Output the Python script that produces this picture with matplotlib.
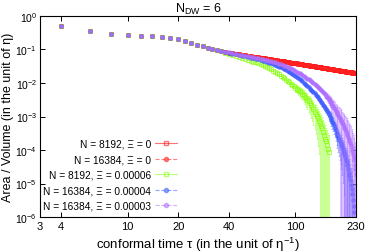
import numpy as np
import matplotlib
matplotlib.use("Agg")
import matplotlib.pyplot as plt
from matplotlib.lines import Line2D
from matplotlib.ticker import FixedLocator, FixedFormatter, NullLocator

plt.rcParams['font.family'] = ['Liberation Sans', 'DejaVu Sans']
plt.rcParams['mathtext.fontset'] = 'custom'
plt.rcParams['mathtext.rm'] = 'Liberation Sans'
plt.rcParams['mathtext.it'] = 'Liberation Sans'

# conformal time grid (step 2)
tau = list(range(4, 231, 2))

# tau = 4 ... 24, all runs coincide
area_early = [0.51, 0.36, 0.29, 0.265, 0.25, 0.245, 0.24, 0.225, 0.205, 0.18, 0.158]

# N = 8192, Xi = 0   (tau = 26 ... 230)
area_xi0_8192 = area_early + [
    0.14, 0.126, 0.114, 0.105, 0.097, 0.090, 0.085, 0.080,
    0.0770, 0.0743, 0.0718, 0.0695, 0.0673, 0.0653, 0.0634, 0.0616, 0.0599, 0.0584,
    0.0569, 0.0555, 0.0541, 0.0529, 0.0517, 0.0505, 0.0494, 0.0484, 0.0474, 0.0464,
    0.0455, 0.0447, 0.0438, 0.0430, 0.0422, 0.0415, 0.0408, 0.0401, 0.0394, 0.0388,
    0.0382, 0.0376, 0.0370, 0.0365, 0.0359, 0.0354, 0.0349, 0.0344, 0.0339, 0.0335,
    0.0330, 0.0326, 0.0322, 0.0317, 0.0313, 0.0310, 0.0306, 0.0302, 0.0299, 0.0295,
    0.0292, 0.0288, 0.0285, 0.0282, 0.0279, 0.0276, 0.0273, 0.0270, 0.0267, 0.0264,
    0.0262, 0.0259, 0.0256, 0.0254, 0.0251, 0.0249, 0.0247, 0.0244, 0.0242, 0.0240,
    0.0238, 0.0235, 0.0233, 0.0231, 0.0229, 0.0227, 0.0225, 0.0223, 0.0222, 0.0220,
    0.0218, 0.0216, 0.0214, 0.0213, 0.0211, 0.0209, 0.0208, 0.0206, 0.0205, 0.0203,
    0.0201, 0.0200, 0.0198, 0.0197, 0.0196]

# N = 16384, Xi = 0 lies on top of the N = 8192 run
area_xi0_16384 = area_xi0_8192

# N = 8192, Xi = 0.00006   (tau = 26 ... 158)
area_xi6_8192 = area_early + [
    0.138, 0.124, 0.112, 0.1035, 0.0955, 0.0871, 0.0804, 0.0741,
    0.0692, 0.0646, 0.0603, 0.0562, 0.0525, 0.0490, 0.0462, 0.0437, 0.0417, 0.0398,
    0.0380, 0.0351, 0.0324, 0.0302, 0.0282, 0.0257, 0.0234, 0.0216, 0.0200, 0.0182,
    0.0166, 0.0151, 0.0138, 0.0126, 0.0115, 0.0105, 0.00955, 0.00871, 0.00794, 0.00724,
    0.00676, 0.00624, 0.00575, 0.00525, 0.00479, 0.00437, 0.00389, 0.00355, 0.00316, 0.00282,
    0.00251, 0.00219, 0.00191, 0.00166, 0.00141, 0.00123, 0.00105, 0.00089, 0.00076, 0.00063,
    0.00052, 0.00044, 0.00035, 0.00028, 0.00022, 0.00018, 0.00014, 0.00011, 0.000089]

# N = 16384, Xi = 0.00004   (tau = 26 ... 224)
area_xi4_16384 = area_early + [
    0.139, 0.125, 0.1117, 0.1035, 0.0966, 0.0902, 0.0841, 0.0794,
    0.0750, 0.0716, 0.0684, 0.0653, 0.0624, 0.0596, 0.0569, 0.0550, 0.0525, 0.0507,
    0.0490, 0.0468, 0.0447, 0.0427, 0.0407, 0.0389, 0.0367, 0.0347, 0.0327, 0.0309,
    0.0292, 0.0275, 0.0257, 0.0240, 0.0224, 0.0209, 0.0195, 0.0182, 0.0170, 0.0158,
    0.0148, 0.0138, 0.0129, 0.0120, 0.0111, 0.0102, 0.00944, 0.00871, 0.00804, 0.00741,
    0.00684, 0.00631, 0.00582, 0.00537, 0.00490, 0.00447, 0.00407, 0.00372, 0.00339, 0.00309,
    0.00279, 0.00251, 0.00226, 0.00204, 0.00184, 0.00166, 0.00148, 0.00132, 0.00117, 0.00105,
    0.00093, 0.00081, 0.00071, 0.00062, 0.00054, 0.00046, 0.00039, 0.00033, 0.00028, 0.00024,
    0.00021, 0.00018, 0.00016, 0.000138, 0.000120, 0.000105, 0.000089, 0.000076, 0.000063, 0.000052,
    0.000043, 0.000035, 0.000028, 0.000021, 0.000017, 0.000013, 0.0000093, 0.0000068, 0.0000048,
    0.0000033, 0.0000022, 0.0000014]

# N = 16384, Xi = 0.00003   (tau = 26 ... 230)
area_xi3_16384 = area_early + [
    0.139, 0.125, 0.1117, 0.1038, 0.0973, 0.0912, 0.0859, 0.0813,
    0.0773, 0.0738, 0.0708, 0.0679, 0.0653, 0.0631, 0.0610, 0.0589, 0.0569, 0.0550,
    0.0537, 0.0519, 0.0501, 0.0484, 0.0468, 0.0452, 0.0437, 0.0417, 0.0398, 0.0380,
    0.0363, 0.0347, 0.0331, 0.0316, 0.0302, 0.0288, 0.0272, 0.0257, 0.0243, 0.0229,
    0.0216, 0.0204, 0.0193, 0.0182, 0.0172, 0.0162, 0.0153, 0.0145, 0.0136, 0.0129,
    0.0122, 0.0115, 0.0108, 0.0102, 0.00955, 0.00891, 0.00832, 0.00776, 0.00724, 0.00676,
    0.00631, 0.00582, 0.00537, 0.00495, 0.00457, 0.00422, 0.00389, 0.00355, 0.00324, 0.00295,
    0.00269, 0.00245, 0.00224, 0.00202, 0.00182, 0.00164, 0.00148, 0.00133, 0.00120, 0.00108,
    0.00098, 0.00088, 0.00079, 0.00072, 0.00065, 0.00058, 0.00052, 0.00047, 0.00042, 0.00037,
    0.00033, 0.00029, 0.00025, 0.00022, 0.00019, 0.00016, 0.00014, 0.000115, 0.000095, 0.000078,
    0.000063, 0.000049, 0.000037, 0.000027, 0.000019]

# relative error bars on the late-time tails
rel_err_xi6 = [0.25, 0.27, 0.29, 0.31, 0.33, 0.35, 0.38, 0.41, 0.44, 0.47, 0.5, 0.54, 0.58,
               0.62, 0.66, 0.7, 0.75, 0.8, 0.85, 0.9, 1.05, 1.1, 1.2, 1.3, 1.4, 1.5, 1.6,
               1.8, 2.0, 2.2]
rel_err_xi4 = [0.2, 0.22, 0.24, 0.26, 0.28, 0.3, 0.33, 0.36, 0.39, 0.42, 0.45, 0.48, 0.52,
               0.56, 0.6, 0.64, 0.68, 0.72, 0.76, 0.8, 0.85, 0.9, 0.95, 1.05, 1.1, 1.2, 1.3,
               1.4, 1.5, 1.6, 1.8, 2.0, 2.2, 2.4, 2.6, 2.8, 3.0, 3.2]
rel_err_xi3 = [0.2, 0.23, 0.26, 0.29, 0.32, 0.35, 0.39, 0.43, 0.47, 0.51, 0.55, 0.6, 0.65,
               0.7, 0.76, 0.82, 0.9, 1.0, 1.05, 1.1, 1.15, 1.2, 1.3, 1.4, 1.5, 1.6, 1.7,
               1.8, 1.9, 2.0, 2.2, 2.4, 2.6, 2.8, 3.0, 3.2, 3.4, 3.6, 3.8, 4.0, 4.2]

labels = ['N = 8192, Ξ = 0', 'N = 16384, Ξ = 0', 'N = 8192, Ξ = 0.00006',
          'N = 16384, Ξ = 0.00004', 'N = 16384, Ξ = 0.00003']
colors = ['#ff0000', '#ff2020', '#80ff00', '#3f5fff', '#b070ff']
markers = ['s', 'o', 's', 'o', 'o']
linestyles = ['-', '--', '-', '--', '--']

series = [area_xi0_8192, area_xi0_16384, area_xi6_8192, area_xi4_16384, area_xi3_16384]
errors = [None, None, rel_err_xi6, rel_err_xi4, rel_err_xi3]

fig = plt.figure(figsize=(3.66, 2.53), dpi=100)
ax = fig.add_axes([0.109, 0.138, 0.864, 0.795])
ax.set_xscale('log')
ax.set_yscale('log')

for vals, err, c, m in zip(series, errors, colors, markers):
    t = np.array(tau[:len(vals)], dtype=float)
    v = np.array(vals)
    if err is not None:
        n = len(err)
        e = np.zeros_like(v)
        e[-n:] = np.array(err) * v[-n:]
        lower = np.minimum(e, v * 0.999999)
        ax.errorbar(t, v, yerr=[lower, e], fmt='none', ecolor=c, elinewidth=0.6,
                    alpha=0.5, capsize=0.8, capthick=0.5)
    mfc = 'none' if m == 's' else c
    ax.plot(t, v, ls='none', marker=m, ms=2.6, mec=c, mfc=mfc, mew=0.6, alpha=0.75)

ax.set_xlim(3, 230)
ax.set_ylim(1e-6, 1)
xt = [3, 4, 10, 20, 40, 100, 230]
ax.xaxis.set_major_locator(FixedLocator(xt))
ax.xaxis.set_major_formatter(FixedFormatter([str(x) for x in xt]))
ax.xaxis.set_minor_locator(NullLocator())
yt = [10.0 ** k for k in range(-6, 1)]
ax.yaxis.set_major_locator(FixedLocator(yt))
ax.yaxis.set_major_formatter(FixedFormatter(['$10^{%d}$' % k for k in range(-6, 1)]))
ax.yaxis.set_minor_locator(NullLocator())
ax.tick_params(which='both', direction='in', top=True, right=True, length=3.5,
               width=0.7, labelsize=8, pad=2.5)
ax.tick_params(axis='y', labelsize=7.5, pad=2)
for s in ax.spines.values():
    s.set_linewidth(0.8)

ax.set_xlabel('conformal time τ (in the unit of η$^{-1}$)', fontsize=9.5)
ax.xaxis.set_label_coords(0.5, -0.09)
ax.set_ylabel('Area / Volume (in the unit of η)', fontsize=9)
ax.yaxis.set_label_coords(-0.083, 0.5)
ax.set_title('N$_{\\rm DW}$ = 6', fontsize=9, pad=3)

handles = [Line2D([0], [0], color=c, ls=ls, lw=0.8, marker=m, ms=3,
                  mfc=('none' if m == 's' else c), alpha=0.55)
           for c, ls, m in zip(colors, linestyles, markers)]
ax.legend(handles, labels, loc='lower right', bbox_to_anchor=(0.455, -0.005),
          frameon=False, markerfirst=False, fontsize=7.3, labelspacing=0.55,
          handlelength=2.1, handletextpad=0.4, borderpad=0.2)

fig.savefig('out.png', dpi=100)
